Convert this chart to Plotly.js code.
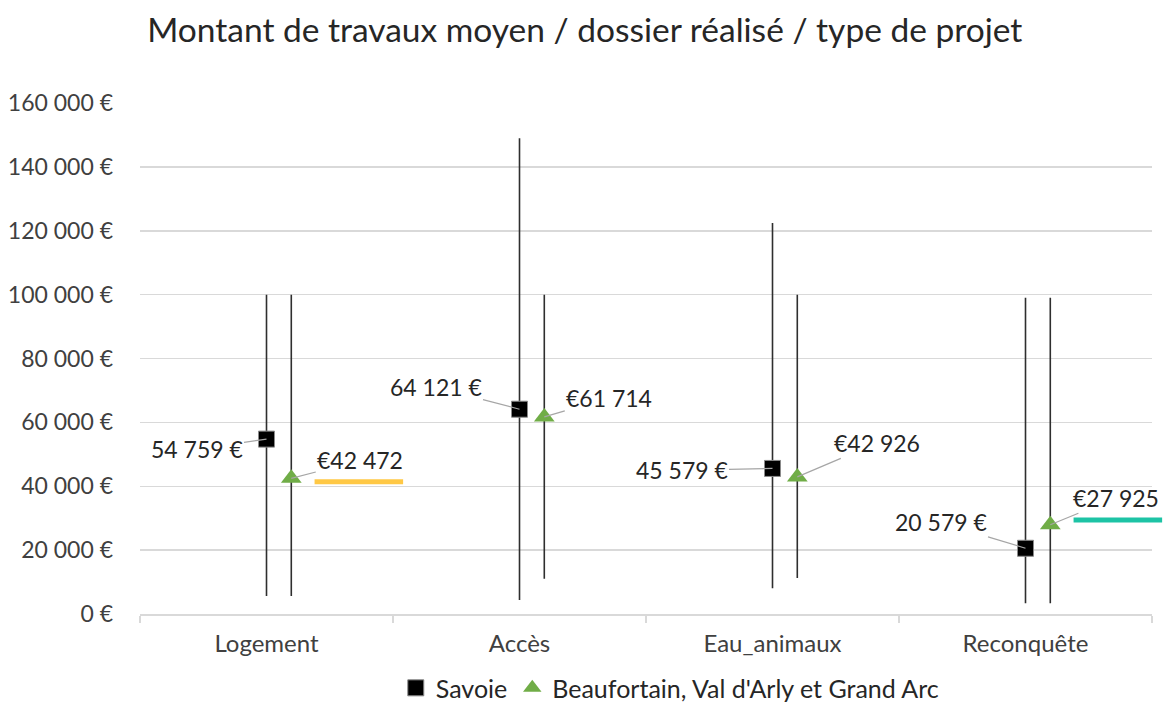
<!DOCTYPE html>
<html><head><meta charset="utf-8">
<script src="https://cdn.plot.ly/plotly-3.0.1.min.js"></script>
<style>body{margin:0;background:#fff}#c{width:1169px;height:724px}</style>
</head><body><div id="c"></div>
<script>
const categories = ['Logement', 'Accès', 'Eau_animaux', 'Reconquête'];
const savoieMean = [54759, 64121, 45579, 20579];
const savoieMin = [5600, 4400, 8100, 3400];
const savoieMax = [100000, 149000, 122400, 99000];
const beauMean = [42472, 61714, 42926, 27925];
const beauMin = [5600, 11000, 11300, 3400];
const beauMax = [100000, 100000, 100000, 99000];
const refCats = [0, 3];
const refValues = [41400, 29400];
const refColors = ['#FFC845', '#1DC3A5'];
const yTickVals = [0, 20000, 40000, 60000, 80000, 100000, 120000, 140000, 160000];

const FONT = 'Lato, "Open Sans", sans-serif';
function fmt(v){ return String(v).replace(/\B(?=(\d{3})+(?!\d))/g, ' '); }
const idx = categories.map((c,i)=>i);
const xRange = [-0.5, 3.5], yRange = [0, 160000];
const bOffset = 0.098;

const savoie = {
  type:'scatter', mode:'markers', name:'Savoie',
  x: idx, y: savoieMean,
  marker:{symbol:'square', size:16, color:'#000', line:{color:'#8a8a8a', width:1}},
  error_y:{type:'data', symmetric:false,
    array: savoieMax.map((m,i)=>m-savoieMean[i]),
    arrayminus: savoieMin.map((m,i)=>savoieMean[i]-m),
    width:0, thickness:1.6, color:'#2e2e2e'},
  cliponaxis:false
};
const beau = {
  type:'scatter', mode:'markers', name:"Beaufortain, Val d'Arly et Grand Arc",
  x: idx.map(i=>i+bOffset), y: beauMean,
  marker:{symbol:'triangle-up', size:18, color:'#70AD47'},
  error_y:{type:'data', symmetric:false,
    array: beauMax.map((m,i)=>m-beauMean[i]),
    arrayminus: beauMin.map((m,i)=>beauMean[i]-m),
    width:0, thickness:1.6, color:'#2e2e2e'},
  cliponaxis:false
};
const toPx = x => (x - xRange[0]) / (xRange[1] - xRange[0]);
const toPy = y => (y - yRange[0]) / (yRange[1] - yRange[0]);
const shapes = refCats.map((c,k)=>({
  type:'line', xref:'paper', yref:'paper',
  x0: toPx(c+0.19), x1: toPx(c+0.54), y0: toPy(refValues[k]), y1: toPy(refValues[k]),
  line:{color:refColors[k], width:5}, layer:'above'
}));

// label offsets (pixels) for [savoie, beau] per category
const sOff = [[-70,10],[-84,-22],[-91,2],[-85,-26]];
const bOff = [[69,-18],[65,-19],[80,-34],[66,-27]];
const annotations = [];
idx.forEach(i=>{
  annotations.push({x:i, y:savoieMean[i], xref:'x', yref:'y', text: fmt(savoieMean[i])+' €',
    showarrow:true, arrowhead:0, arrowwidth:1.2, arrowcolor:'#a6a6a6', ax:sOff[i][0], ay:sOff[i][1],
    font:{family:FONT, size:23, color:'#262626'}});
  annotations.push({x:i+bOffset, y:beauMean[i], xref:'x', yref:'y', text: '€'+fmt(beauMean[i]),
    showarrow:true, arrowhead:0, arrowwidth:1.2, arrowcolor:'#a6a6a6', ax:bOff[i][0], ay:bOff[i][1],
    font:{family:FONT, size:23, color:'#262626'}});
});

const layout = {
  width:1169, height:724,
  margin:{l:140, r:17, t:103, b:110, autoexpand:false},
  paper_bgcolor:'#fff', plot_bgcolor:'#fff',
  font:{family:FONT, color:'#404040'},
  title:{text:'Montant de travaux moyen / dossier réalisé / type de projet',
    font:{family:FONT, size:33.5, color:'#262626'}, x:0.126, xanchor:'left', y:0.958, yanchor:'middle'},
  showlegend:true,
  legend:{orientation:'h', x:0.524, xanchor:'center', y:-0.1, yanchor:'top',
    font:{family:FONT, size:25, color:'#262626'}, traceorder:'normal'},
  xaxis:{range:xRange, tickvals:idx, ticktext:categories, showgrid:false, zeroline:false,
    showline:true, linecolor:'#d9d9d9', linewidth:1.5, ticks:'', tickfont:{family:FONT, size:24, color:'#404040'},
    ticklabelstandoff:8,
    minor:{tickvals:[-0.5,0.5,1.5,2.5,3.5], ticks:'outside', ticklen:7, tickcolor:'#d9d9d9', tickwidth:1.5, showgrid:false},
    fixedrange:true},
  yaxis:{range:yRange, tickvals:yTickVals, ticktext:yTickVals.map(v=>fmt(v)+' €'),
    showgrid:true, gridcolor:'#d9d9d9', gridwidth:1.5, zeroline:false, showline:false, ticks:'',
    ticklabelstandoff:26, tickfont:{family:FONT, size:23, color:'#404040'}, fixedrange:true},
  shapes: shapes,
  annotations: annotations
};
Plotly.newPlot('c', [savoie, beau], layout, {staticPlot:true});
</script></body></html>
